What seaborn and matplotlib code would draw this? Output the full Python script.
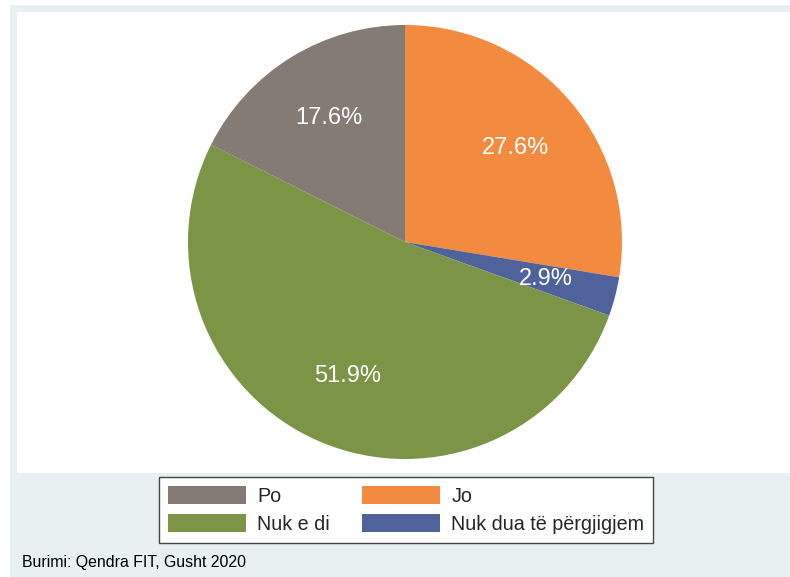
import matplotlib
matplotlib.use("Agg")
import matplotlib.pyplot as plt
import matplotlib.patches as mpatches
import seaborn as sns

# data (clockwise from 12 o'clock)
labels = ["Jo", "Nuk dua të përgjigjem", "Nuk e di", "Po"]
shares = [27.6, 2.9, 51.9, 17.6]
colors = ["#F28B3F", "#4F629C", "#7B9446", "#847B74"]
legend_order = ["Po", "Nuk e di", "Jo", "Nuk dua të përgjigjem"]
source = "Burimi: Qendra FIT, Gusht 2020"

sns.set_theme(style="white")
plt.rcParams['font.family'] = ['Liberation Sans', 'DejaVu Sans']

W, H = 790, 577
fig = plt.figure(figsize=(W / 100, H / 100), dpi=100)
fig.patch.set_facecolor("white")

# light blue outer region (Stata-like) and white plot region
bg = mpatches.Rectangle((10 / W, -0.01), 1.02 - 10 / W, 1.01 - 5 / H, transform=fig.transFigure,
                        facecolor="#E8F0F2", edgecolor="none", zorder=-2)
plotbg = mpatches.Rectangle((17 / W, 1 - 473 / H), 1.02 - 17 / W, (473 - 12) / H,
                            transform=fig.transFigure, facecolor="white",
                            edgecolor="none", zorder=-1)
fig.patches.extend([bg, plotbg])

ax = fig.add_axes([17 / W, 1 - 473 / H, 1 - 17 / W, (473 - 12) / H])
ax.set_zorder(1)

wedges, texts, autotexts = ax.pie(
    shares, colors=colors, startangle=90, counterclock=False,
    autopct="%.1f%%", pctdistance=0.67,
    wedgeprops=dict(edgecolor="none"),
    textprops=dict(color="white", fontsize=17),
)

# place pie centre at (405, 242) px with radius 217 px
cx, cy, r = 405, 242, 217
ax.set_aspect("auto")
ax.set_xlim((17 - cx) / r, (790 - cx) / r)
ax.set_ylim(-(473 - cy) / r, (cy - 12) / r)
ax.set_xticks([])
ax.set_yticks([])

handles = {lab: mpatches.Patch(facecolor=c, edgecolor="none") for lab, c in zip(labels, colors)}
leg = fig.legend([handles[l] for l in legend_order], legend_order, ncol=2,
                 loc="center", bbox_to_anchor=(406 / W, 1 - 510 / H),
                 fontsize=14.2, frameon=True, fancybox=False, framealpha=1,
                 handlelength=3.95, handleheight=1.05, handletextpad=0.6,
                 columnspacing=1.6, labelspacing=0.4, borderpad=0.45,
                 borderaxespad=0)
leg.get_frame().set_edgecolor("#444444")
leg.get_frame().set_linewidth(1.0)
leg.get_frame().set_facecolor("white")

fig.text(22 / W, 1 - 562 / H, source, fontsize=11.4, va="center", ha="left", color="black")

fig.savefig("out.png", dpi=100, facecolor=fig.get_facecolor())
